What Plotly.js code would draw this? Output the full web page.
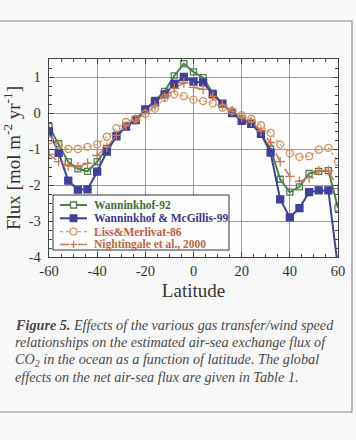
<!DOCTYPE html>
<html>
<head>
<meta charset="utf-8">
<script src="https://cdn.plot.ly/plotly-3.0.1.min.js"></script>
<style>
html,body{margin:0;padding:0;background:#f8f8f8;}
#chart{width:356px;height:440px;}
</style>
</head>
<body>
<div id="chart"></div>
<script>
const latitude = [-60,-56,-52,-48,-44,-40,-36,-32,-28,-24,-20,-16,-12,-8,-4,0,4,8,12,16,20,24,28,32,36,40,44,48,52,56,60];
const wanninkhof92 = [-0.38,-0.85,-1.36,-1.55,-1.62,-1.35,-0.98,-0.62,-0.36,-0.18,0.10,0.35,0.60,1.03,1.37,1.14,0.98,0.55,0.25,0.02,-0.15,-0.28,-0.58,-1.00,-1.84,-2.20,-2.05,-1.68,-1.62,-1.60,-2.64];
const wanninkhofMcGillis99 = [-0.51,-1.11,-1.88,-2.13,-2.12,-1.63,-1.07,-0.65,-0.38,-0.20,0.10,0.32,0.52,0.80,1.00,0.87,0.85,0.52,0.26,0.00,-0.22,-0.30,-0.58,-1.10,-2.40,-2.90,-2.64,-2.20,-2.15,-2.15,-4.30];
const lissMerlivat86 = [-0.76,-0.90,-1.00,-1.00,-0.94,-0.87,-0.66,-0.42,-0.25,-0.16,-0.02,0.12,0.42,0.52,0.47,0.37,0.33,0.27,0.15,0.06,-0.06,-0.16,-0.34,-0.55,-0.88,-1.12,-1.22,-1.20,-1.02,-0.97,-1.36];
const nightingale2000 = [-1.15,-1.35,-1.47,-1.50,-1.40,-1.18,-0.95,-0.62,-0.36,-0.20,-0.02,0.20,0.45,0.68,0.84,0.71,0.66,0.46,0.22,0.05,-0.12,-0.25,-0.50,-0.82,-1.35,-1.76,-1.90,-1.80,-1.60,-1.60,-2.10];
const seriesNames = ["Wanninkhof-92","Wanninkhof & McGillis-99","Liss&Merlivat-86","Nightingale et al., 2000"];
const xTicks = [-60,-40,-20,0,20,40,60];
const xTickLabels = ["-60","-40","-20","0","20","40","60"];
const yTicks = [-4,-3,-2,-1,0,1];
const yTickLabels = ["-4","-3","-2","-1","0","1"];
const captionLines = [
  "<b><i>Figure 5.</i></b><i> Effects of the various gas transfer/wind speed</i>",
  "<i>relationships on the estimated air-sea exchange flux of</i>",
  "<i>CO<sub>2</sub> in the ocean as a function of latitude. The global</i>",
  "<i>effects on the net air-sea flux are given in Table 1.</i>"
];

const serif = "Liberation Serif, Times New Roman, serif";
const W=356, H=440, L=49, R=18, T=59, B=183;
const pw = W-L-R, ph = H-T-B;
const px = v => (v-L)/pw;
const py = v => (H-B-v)/ph;

const styles = [
  {line:'#4f7f4f', text:'#3d6b3d', width:2, dash:'solid', sym:'square-open'},
  {line:'#40409c', text:'#3a3a8c', width:2, dash:'solid', sym:'square'},
  {line:'#d09a68', text:'#c8583e', width:1.2, dash:'dot', sym:'circle-open', mcol:'#d0925a'},
  {line:'#c67c52', text:'#b86a40', width:1.5, dash:'dash', sym:'cross-thin-open'}
];
const seriesData = [wanninkhof92, wanninkhofMcGillis99, lissMerlivat86, nightingale2000];

const traces = seriesData.map((d,i)=>({
  x: latitude, y: d, name: seriesNames[i], mode:'lines+markers', showlegend:false,
  line:{color:styles[i].line, width:styles[i].width, dash:styles[i].dash},
  marker:{symbol:styles[i].sym, size: i===1?7:(i===0?6:7), color: styles[i].mcol || styles[i].line,
    line:{width:1.3, color: styles[i].mcol || styles[i].line}}
}));

const annotations = captionLines.map((t,i)=>({
  text: t, xref:'paper', yref:'paper', x: px(13), y: py(325 + i*17.4),
  xanchor:'left', yanchor:'middle', showarrow:false, align:'left',
  font:{family: serif, size:14.2, color:'#4a4a4a'}
}));

// hand-drawn legend (box, sample lines, symbols, labels)
const shapes = [
  {type:'rect', xref:'paper', yref:'paper', x0: px(-5), x1: px(352), y0: py(412), y1: py(21),
   line:{color:'#8a8a8a', width:1.2}, fillcolor:'rgba(0,0,0,0)', layer:'below'},
  {type:'rect', xref:'paper', yref:'paper', x0: px(53), x1: px(229), y0: py(250), y1: py(195),
   line:{color:'#333', width:1}, fillcolor:'#fdfdfd'}
];
const rowY = [205, 218.3, 231.6, 244.5];
const sx0 = 60, sx1 = 87, sxm = 73.5;
seriesNames.forEach((n,i)=>{
  const y = rowY[i], s = styles[i], mc = s.mcol || s.line;
  shapes.push({type:'line', xref:'paper', yref:'paper', x0:px(sx0), x1:px(sx1), y0:py(y), y1:py(y),
    line:{color:s.line, width:s.width, dash:s.dash}});
  if (i===0) shapes.push({type:'rect', xref:'paper', yref:'paper', x0:px(sxm-3), x1:px(sxm+3), y0:py(y+3), y1:py(y-3),
    line:{color:mc, width:1.3}, fillcolor:'#fdfdfd'});
  if (i===1) shapes.push({type:'rect', xref:'paper', yref:'paper', x0:px(sxm-3.5), x1:px(sxm+3.5), y0:py(y+3.5), y1:py(y-3.5),
    line:{color:mc, width:1}, fillcolor:mc});
  if (i===2) shapes.push({type:'circle', xref:'paper', yref:'paper', x0:px(sxm-3.5), x1:px(sxm+3.5), y0:py(y+3.5), y1:py(y-3.5),
    line:{color:mc, width:1.2}, fillcolor:'#fdfdfd'});
  if (i===3) {
    shapes.push({type:'line', xref:'paper', yref:'paper', x0:px(sxm-3.5), x1:px(sxm+3.5), y0:py(y), y1:py(y), line:{color:mc, width:1.3}});
    shapes.push({type:'line', xref:'paper', yref:'paper', x0:px(sxm), x1:px(sxm), y0:py(y-3.5), y1:py(y+3.5), line:{color:mc, width:1.3}});
  }
  annotations.push({text:'<b>'+n.replace(/&/g,'&amp;')+'</b>', xref:'paper', yref:'paper', x:px(92), y:py(y),
    xanchor:'left', yanchor:'middle', showarrow:false, font:{family:serif, size:11.5, color:s.text}});
});

const layout = {
  width: W, height: H,
  margin: {l:L, r:R, t:T, b:B},
  paper_bgcolor:'#f8f8f8', plot_bgcolor:'#fdfdfd',
  showlegend: false,
  xaxis: {range:[-60,60], tickvals: xTicks, ticktext: xTickLabels, ticks:'inside', ticklen:5, tickcolor:'#444',
    mirror:'ticks', showline:true, linecolor:'#444', linewidth:1.3,
    showgrid:true, gridcolor:'#9a9a9a', gridwidth:1, zeroline:false,
    minor:{dtick:5, ticks:'inside', ticklen:3, tickcolor:'#444', showgrid:false},
    tickfont:{family: serif, size:14.5, color:'#333'},
    title:{text:'Latitude', font:{family: serif, size:19, color:'#333'}, standoff:6}},
  yaxis: {range:[-4,1.5], tickvals: yTicks, ticktext: yTickLabels, ticks:'inside', ticklen:5, tickcolor:'#444',
    mirror:'ticks', showline:true, linecolor:'#444', linewidth:1.3,
    showgrid:true, gridcolor:'#9a9a9a', gridwidth:1, zeroline:false,
    minor:{dtick:0.25, ticks:'inside', ticklen:3, tickcolor:'#444', showgrid:false},
    tickfont:{family: serif, size:14.5, color:'#333'}, ticklabelstandoff:4,
    title:{text:'Flux [mol m<sup>-2</sup> yr<sup>-1</sup>]', font:{family: serif, size:19, color:'#333'}, standoff:4}},
  shapes: shapes,
  annotations: annotations
};

Plotly.newPlot('chart', traces, layout, {displayModeBar:false, staticPlot:true});
</script>
</body>
</html>
